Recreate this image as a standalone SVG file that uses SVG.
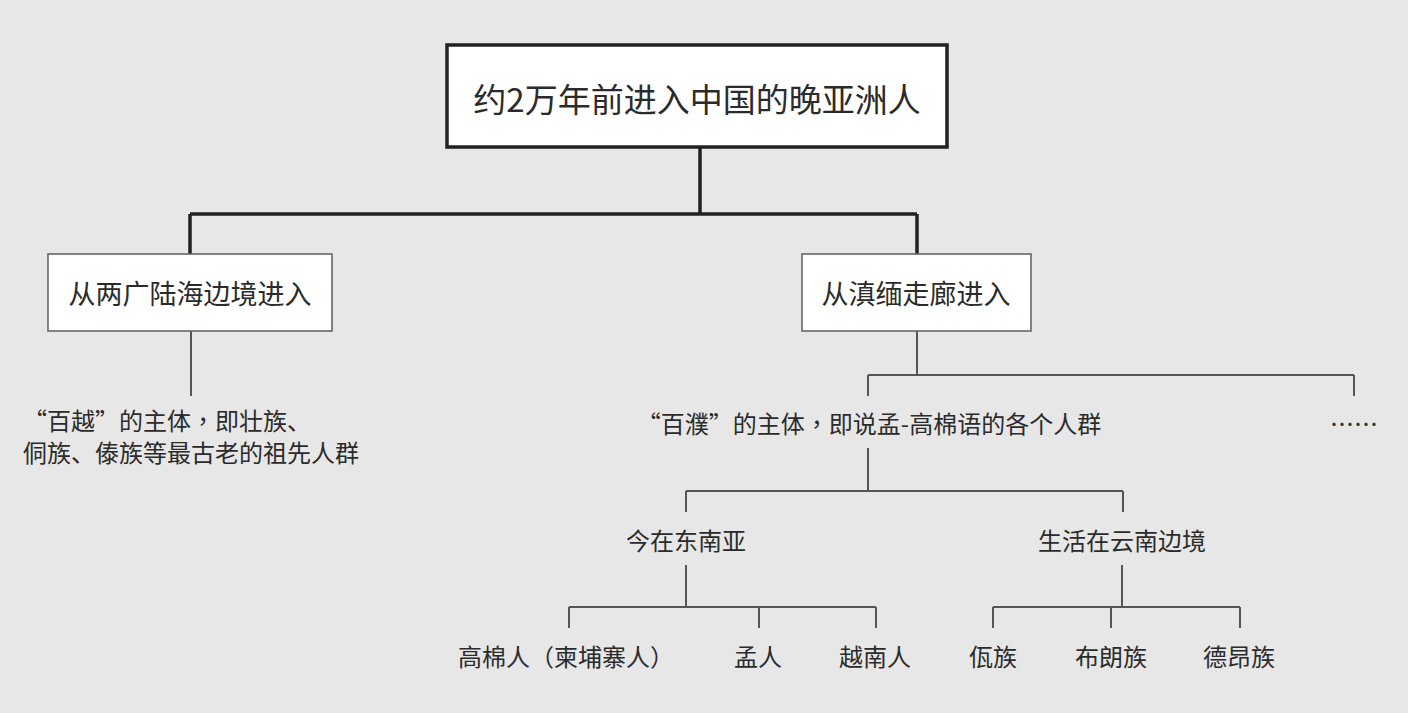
<svg xmlns="http://www.w3.org/2000/svg" width="1408" height="713" viewBox="0 0 1408 713">
<style>
  text { font-family: "Noto Sans CJK SC", "Noto Sans", sans-serif; fill: #2b2b2b; }
  .tc { font-family: "Noto Sans CJK TC", "Noto Sans CJK SC", sans-serif; }
  .t24 { font-size: 24px; }
  .t27 { font-size: 27px; }
  .t33 { font-size: 33px; }
  .mid { text-anchor: middle; }
  .thick { stroke: #222; stroke-width: 3.5; fill: none; }
  .thin { stroke: #555; stroke-width: 2; fill: none; }
  .box1 { fill: #fff; stroke: #222; stroke-width: 3.5; }
  .box2 { fill: #fff; stroke: #666; stroke-width: 1.6; }
</style>
<rect x="0" y="0" width="1408" height="713" fill="#e7e7e7"/>
<g id="connectors">
  <path class="thick" d="M700 147 V214 M190 214 H917 M190 214 V254 M917 214 V254"/>
  <path class="thin" d="M191 331 V396"/>
  <path class="thin" d="M917 331 V375 M868 375 H1354 M868 375 V396 M1354 375 V396"/>
  <path class="thin" d="M868 448 V491 M686 491 H1123 M686 491 V512 M1123 491 V512"/>
  <path class="thin" d="M686 565 V607 M569 607 H876 M569 607 V628 M759 607 V628 M876 607 V628"/>
  <path class="thin" d="M1122 565 V607 M993 607 H1240 M993 607 V628 M1111 607 V628 M1240 607 V628"/>
</g>
<g id="root">
  <rect class="box1" x="447" y="45" width="500" height="102"/>
  <text class="t33 mid" x="697" y="112">约2万年前进入中国的晚亚洲人</text>
</g>
<g id="left">
  <rect class="box2" x="48" y="254" width="284" height="77"/>
  <text class="t27 mid" x="190" y="304">从两广陆海边境进入</text>
</g>
<g id="right">
  <rect class="box2" x="802" y="254" width="229" height="77"/>
  <text class="t27 mid" x="916" y="304">从滇缅走廊进入</text>
</g>
<g id="baiyue">
  <text class="t24" x="23" y="430">“百越”的主体<tspan class="tc">，</tspan>即壮族、</text>
  <text class="t24" x="23" y="462">侗族、傣族等最古老的祖先人群</text>
</g>
<g id="baipu">
  <text class="t24 mid" x="869" y="433">“百濮”的主体<tspan class="tc">，</tspan>即说孟-高棉语的各个人群</text>
</g>
<g id="etc">
  <text class="t24 mid" x="1354" y="433">……</text>
</g>
<g id="sea">
  <text class="t24 mid" x="686" y="550">今在东南亚</text>
</g>
<g id="yunnan">
  <text class="t24 mid" x="1122" y="550">生活在云南边境</text>
</g>
<g id="khmer"><text class="t24 mid" x="566" y="666">高棉人（柬埔寨人）</text></g>
<g id="mon"><text class="t24 mid" x="758" y="666">孟人</text></g>
<g id="viet"><text class="t24 mid" x="875" y="666">越南人</text></g>
<g id="wa"><text class="t24 mid" x="993" y="666">佤族</text></g>
<g id="blang"><text class="t24 mid" x="1111" y="666">布朗族</text></g>
<g id="deang"><text class="t24 mid" x="1239" y="666">德昂族</text></g>
</svg>
